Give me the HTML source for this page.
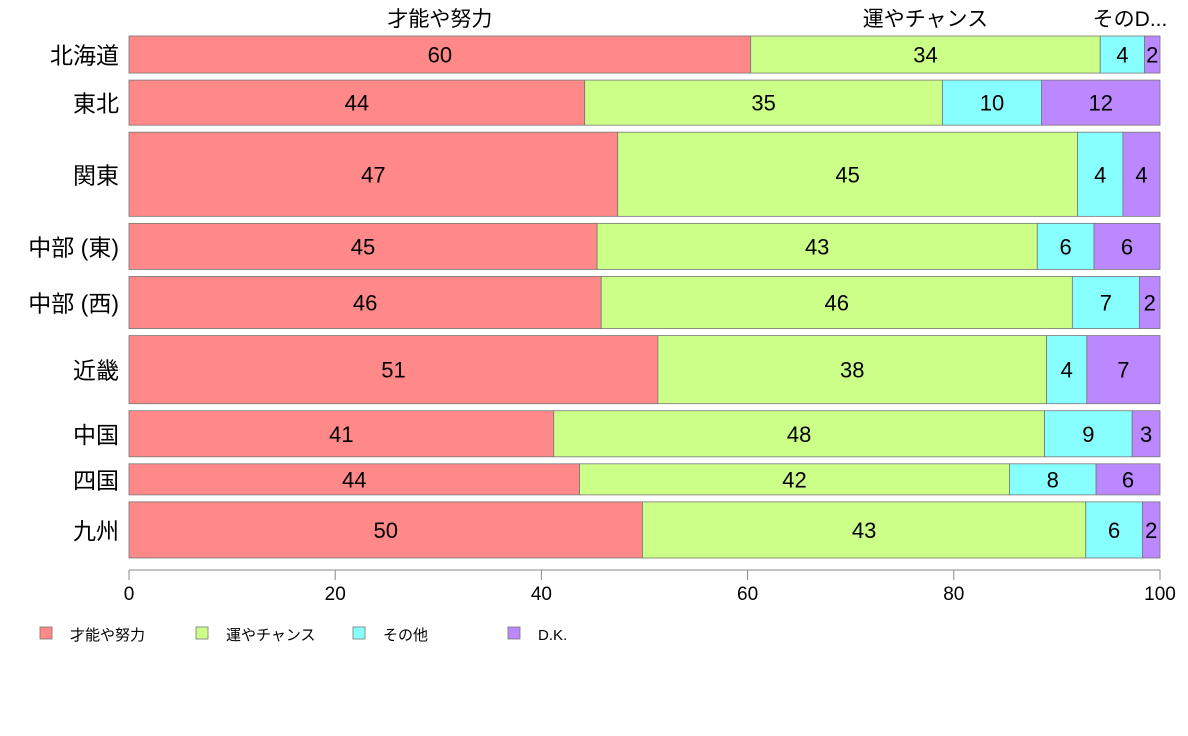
<!DOCTYPE html>
<html><head><meta charset="utf-8"><style>
body{margin:0;background:#fff;}
svg{display:block;font-family:"Liberation Sans","Noto Sans CJK JP",sans-serif;}
</style></head><body>
<svg id="chart" width="1188" height="736"></svg>
<script>
const categories=["北海道","東北","関東","中部 (東)","中部 (西)","近畿","中国","四国","九州"];
const weights=[37,45,84,46,52,68,46,31,56];
const seriesNames=["才能や努力","運やチャンス","その他","D.K."];
const talent=[60.3,44.2,47.4,45.4,45.8,51.3,41.2,43.7,49.8];
const luck=[33.9,34.7,44.6,42.7,45.7,37.7,47.6,41.7,43.0];
const other=[4.3,9.6,4.4,5.5,6.5,3.9,8.5,8.4,5.5];
const dk=[1.5,11.5,3.6,6.4,2.0,7.1,2.7,6.2,1.7];
const ticks=[0,20,40,60,80,100];
const topLabels=["才能や努力","運やチャンス","そのD..."];
const colors=["#ff8888","#ccff88","#88ffff","#bb88ff"];
const NS="http://www.w3.org/2000/svg";
const svg=document.getElementById("chart");
const x0=129,x1=1160,plotTop=36,plotBottom=558,gap=7;
const xs=v=>x0+(v/100)*(x1-x0);
const series=[talent,luck,other,dk];
function mk(t,a,txt){const e=document.createElementNS(NS,t);for(const k in a)e.setAttribute(k,a[k]);if(txt!==undefined)e.textContent=txt;svg.appendChild(e);return e;}
const totalW=weights.reduce((a,b)=>a+b,0);
const avail=plotBottom-plotTop-gap*(categories.length-1);
let yy=plotTop;
categories.forEach((c,i)=>{
  const h=weights[i]/totalW*avail;
  let cum=0;
  series.forEach((s,j)=>{
    const v=s[i];
    const r=mk("rect",{x:xs(cum),y:yy,width:xs(cum+v)-xs(cum),height:h,fill:colors[j],stroke:"#777","stroke-width":0.8});
    
    
    const t=mk("text",{x:(xs(cum)+xs(cum+v))/2,y:yy+h/2+8,"text-anchor":"middle","font-size":22,fill:"#000"},Math.round(v));
    
    
    if(i===0 && j<3){
      const tl=mk("text",{x:j==2?1130:(xs(cum)+xs(cum+v))/2,y:26,"text-anchor":"middle","font-size":21},topLabels[j]);
      
      
    }
    cum+=v;
  });
  const lb=mk("text",{x:119,y:yy+h/2+9,"text-anchor":"end","font-size":23},c);
  
  
  yy+=h+gap;
});
const ax=mk("line",{x1:x0,x2:x1,y1:570,y2:570,stroke:"#888","stroke-width":1});


ticks.forEach(t=>{
  const tk=mk("line",{x1:xs(t),x2:xs(t),y1:570,y2:580,stroke:"#888"});
  
  
  const tt=mk("text",{x:xs(t),y:600,"text-anchor":"middle","font-size":19},t);
  
  
});
const lx=[40,196,353,508];
seriesNames.forEach((n,j)=>{
  const sq=mk("rect",{x:lx[j],y:627,width:12,height:12,fill:colors[j],stroke:"#777","stroke-width":0.8});
  
  
  const lt=mk("text",{x:lx[j]+30,y:640,"font-size":15},n);
  
  
});
</script>
</body></html>
